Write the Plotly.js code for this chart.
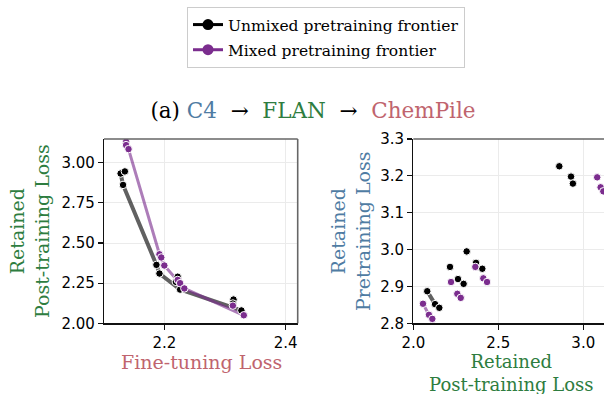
<!DOCTYPE html>
<html>
<head>
<meta charset="utf-8">
<script src="https://cdn.plot.ly/plotly-3.0.1.min.js"></script>
<style>
html,body{margin:0;padding:0;overflow:hidden;background:#fff;}
#chart{width:604px;height:394px;}
</style>
</head>
<body>
<div id="chart"></div>
<script>
// ---- Data ----
// Left panel: Fine-tuning Loss (x) vs Retained Post-training Loss (y)
const leftUnmixedX = [2.128, 2.135, 2.132, 2.187, 2.192, 2.222, 2.219, 2.226, 2.314, 2.313, 2.327];
const leftUnmixedY = [2.933, 2.946, 2.862, 2.364, 2.310, 2.290, 2.258, 2.210, 2.148, 2.123, 2.080];
const leftMixedX = [2.137, 2.137, 2.141, 2.192, 2.195, 2.200, 2.222, 2.226, 2.233, 2.313, 2.331];
const leftMixedY = [3.131, 3.110, 3.085, 2.430, 2.410, 2.360, 2.270, 2.250, 2.217, 2.110, 2.050];
const leftUnmixedFrontX = [2.128, 2.132, 2.187, 2.192, 2.226, 2.327];
const leftUnmixedFrontY = [2.933, 2.862, 2.364, 2.310, 2.210, 2.080];
const leftMixedFrontX = [2.141, 2.192, 2.200, 2.233, 2.331];
const leftMixedFrontY = [3.085, 2.430, 2.360, 2.217, 2.050];

// Right panel: Retained Post-training Loss (x) vs Retained Pretraining Loss (y)
const rightUnmixedX = [2.859, 2.928, 2.939, 2.314, 2.216, 2.369, 2.406, 2.263, 2.296, 2.082, 2.128, 2.153];
const rightUnmixedY = [3.226, 3.198, 3.179, 2.995, 2.953, 2.964, 2.948, 2.920, 2.907, 2.887, 2.852, 2.842];
const rightMixedX = [3.082, 3.102, 3.118, 2.222, 2.365, 2.412, 2.434, 2.259, 2.279, 2.057, 2.092, 2.112];
const rightMixedY = [3.196, 3.169, 3.158, 2.912, 2.953, 2.922, 2.912, 2.880, 2.869, 2.853, 2.823, 2.812];
const rightUnmixedFrontX = [2.082, 2.128, 2.153];
const rightUnmixedFrontY = [2.887, 2.852, 2.842];
const rightMixedFrontX = [2.057, 2.092, 2.112];
const rightMixedFrontY = [2.853, 2.823, 2.812];

const legendNames = ["Unmixed pretraining frontier", "Mixed pretraining frontier"];
const leftXTicks = [2.2, 2.4];
const leftYTicks = [2.00, 2.25, 2.50, 2.75, 3.00];
const rightXTicks = [2.0, 2.5, 3.0];
const rightYTicks = [2.8, 2.9, 3.0, 3.1, 3.2, 3.3];

// ---- Styles ----
const BLACK = '#000000';
const PURPLE = '#7b2d8e';
const BLUE = '#4f7ca3';
const GREEN = '#2e7d40';
const ROSE = '#c0646e';
const SERIF = 'DejaVu Serif, serif';
const SANS = 'DejaVu Sans, sans-serif';

function frontier(x, y, xa, ya, color, w) {
  return {x, y, xaxis: xa, yaxis: ya, type: 'scatter', mode: 'lines',
    line: {color, width: w}, showlegend: false, hoverinfo: 'skip'};
}
function pts(x, y, xa, ya, color) {
  return {x, y, xaxis: xa, yaxis: ya, type: 'scatter', mode: 'markers',
    marker: {color, size: 7.5, line: {color: '#ffffff', width: 1}}, showlegend: false};
}

const traces = [
  frontier(leftUnmixedFrontX, leftUnmixedFrontY, 'x', 'y', 'rgba(0,0,0,0.62)', 4),
  frontier(leftMixedFrontX, leftMixedFrontY, 'x', 'y', 'rgba(123,45,142,0.62)', 3),
  pts(leftUnmixedX, leftUnmixedY, 'x', 'y', BLACK),
  pts(leftMixedX, leftMixedY, 'x', 'y', PURPLE),
  frontier(rightUnmixedFrontX, rightUnmixedFrontY, 'x2', 'y2', 'rgba(0,0,0,0.62)', 4),
  frontier(rightMixedFrontX, rightMixedFrontY, 'x2', 'y2', 'rgba(123,45,142,0.62)', 3),
  pts(rightUnmixedX, rightUnmixedY, 'x2', 'y2', BLACK),
  pts(rightMixedX, rightMixedY, 'x2', 'y2', PURPLE),
  {x: [null], y: [null], xaxis: 'x', yaxis: 'y', type: 'scatter', mode: 'lines+markers', name: legendNames[0],
    legendgroup: 'g1', line: {color: BLACK, width: 3}, marker: {color: BLACK, size: 11}},
  {x: [null], y: [null], xaxis: 'x', yaxis: 'y', type: 'scatter', mode: 'lines+markers', name: legendNames[1],
    legendgroup: 'g2', line: {color: PURPLE, width: 3}, marker: {color: PURPLE, size: 11}}
];

const W = 604, H = 394;
const px = v => v / W;
const py = v => 1 - v / H;

function axisBase(range, ticks, fmt) {
  return {range, tickvals: ticks, ticktext: ticks.map(t => t.toFixed(fmt)),
    showline: true, linecolor: '#111', linewidth: 1.2, mirror: false,
    ticks: 'outside', ticklen: 5, tickwidth: 1.2, tickcolor: '#111',
    showgrid: true, gridcolor: '#ebebeb', gridwidth: 1, zeroline: false,
    tickfont: {family: SANS, size: 15, color: '#000'}, fixedrange: true};
}

const layout = {
  width: W, height: H,
  margin: {l: 0, r: 0, t: 0, b: 0},
  paper_bgcolor: '#fff', plot_bgcolor: '#fff',
  showlegend: true,
  legend: {x: px(187), y: py(7), xanchor: 'left', yanchor: 'top',
    bgcolor: '#fff', bordercolor: '#cccccc', borderwidth: 1,
    tracegroupgap: 2,
    font: {family: SERIF, size: 15.5, color: '#000'}},
  title: {text: '(a) <span style="color:' + BLUE + '">C4</span>  →  <span style="color:' + GREEN + '">FLAN</span>  →  <span style="color:' + ROSE + '">ChemPile</span>',
    font: {family: SERIF, size: 21.5, color: '#000'},
    x: px(313), y: py(110), xanchor: 'center', yanchor: 'middle', xref: 'paper', yref: 'paper'},
  xaxis: Object.assign(axisBase([2.1006, 2.4198], leftXTicks, 1), {domain: [px(104), px(297.7)], anchor: 'y'}),
  yaxis: Object.assign(axisBase([2.0, 3.148], leftYTicks, 2), {domain: [py(323.3), py(139)], anchor: 'x'}),
  xaxis2: Object.assign(axisBase([2.0, 3.122], rightXTicks, 1), {domain: [px(413.3), 1], anchor: 'y2'}),
  yaxis2: Object.assign(axisBase([2.8, 3.3], rightYTicks, 1), {domain: [py(323.3), py(139)], anchor: 'x2'}),
  shapes: [
    {type: 'line', xref: 'x domain', yref: 'y domain', x0: 0, x1: 1, y0: 1, y1: 1, line: {color: '#666', width: 1.6}},
    {type: 'line', xref: 'x domain', yref: 'y domain', x0: 1, x1: 1, y0: 0, y1: 1, line: {color: '#666', width: 1.6}},
    {type: 'line', xref: 'x2 domain', yref: 'y2 domain', x0: 0, x1: 1, y0: 1, y1: 1, line: {color: '#666', width: 1.6}}
  ],
  annotations: [
    {text: 'Retained<br>Post-training Loss', textangle: -90, xref: 'paper', yref: 'paper',
      x: px(29), y: py(231), xanchor: 'center', yanchor: 'middle', showarrow: false,
      font: {family: SERIF, size: 19, color: GREEN}},
    {text: 'Fine-tuning Loss', xref: 'paper', yref: 'paper',
      x: px(201), y: py(362), xanchor: 'center', yanchor: 'middle', showarrow: false,
      font: {family: SERIF, size: 19, color: ROSE}},
    {text: 'Retained<br>Pretraining Loss', textangle: -90, xref: 'paper', yref: 'paper',
      x: px(350), y: py(231), xanchor: 'center', yanchor: 'middle', showarrow: false,
      font: {family: SERIF, size: 19, color: BLUE}},
    {text: 'Retained<br>Post-training Loss', xref: 'paper', yref: 'paper',
      x: px(511), y: py(372.5), xanchor: 'center', yanchor: 'middle', showarrow: false,
      font: {family: SERIF, size: 18, color: GREEN}}
  ]
};

Plotly.newPlot('chart', traces, layout, {staticPlot: true, displayModeBar: false});
</script>
</body>
</html>
